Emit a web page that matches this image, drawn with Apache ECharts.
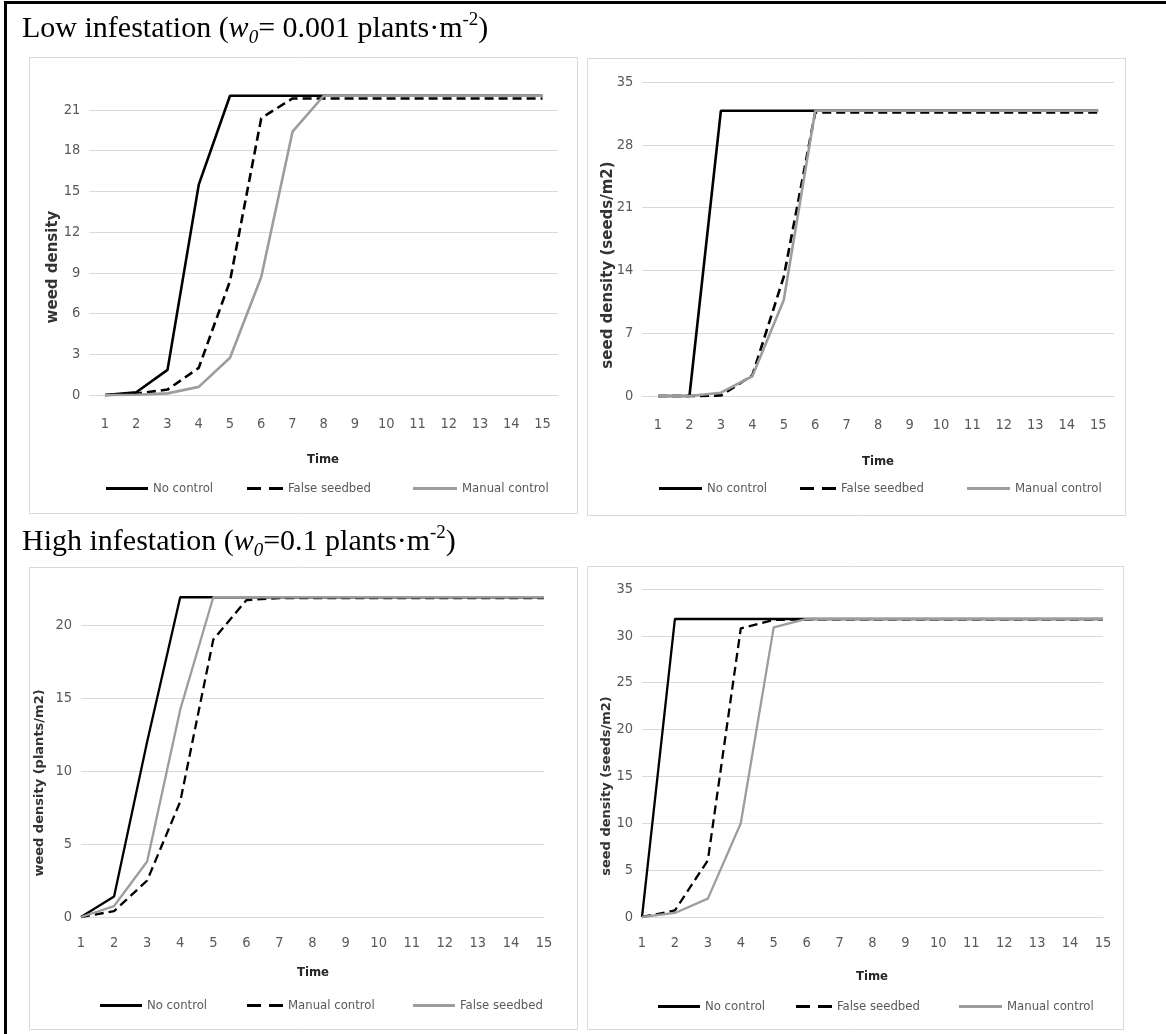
<!DOCTYPE html>
<html><head><meta charset="utf-8">
<script src="https://cdn.jsdelivr.net/npm/echarts@6/dist/echarts.min.js"></script>
<style>html,body{margin:0;padding:0;background:#fff}#c{width:1166px;height:1034px}</style>
</head><body><div id="c"></div>
<script>
// ---------- data ----------
const timeSteps = ['1','2','3','4','5','6','7','8','9','10','11','12','13','14','15'];

// Low infestation – weed density
const lowWeedNoControl    = [0, 0.2, 1.85, 15.5, 22.05, 22.05, 22.05, 22.05, 22.05, 22.05, 22.05, 22.05, 22.05, 22.05, 22.05];
const lowWeedFalseSeedbed = [0, 0.1, 0.4, 2.0, 8.4, 20.4, 21.85, 21.85, 21.85, 21.85, 21.85, 21.85, 21.85, 21.85, 21.85];
const lowWeedManual       = [0, 0.02, 0.12, 0.6, 2.75, 8.7, 19.4, 22.05, 22.05, 22.05, 22.05, 22.05, 22.05, 22.05, 22.05];
const lowWeedTicks = [0, 3, 6, 9, 12, 15, 18, 21];

// Low infestation – seed density
const lowSeedNoControl    = [0, 0, 31.8, 31.8, 31.8, 31.8, 31.8, 31.8, 31.8, 31.8, 31.8, 31.8, 31.8, 31.8, 31.8];
const lowSeedFalseSeedbed = [0, 0, 0.05, 2.3, 13.3, 31.6, 31.6, 31.6, 31.6, 31.6, 31.6, 31.6, 31.6, 31.6, 31.6];
const lowSeedManual       = [0, 0, 0.37, 2.2, 10.7, 31.8, 31.8, 31.8, 31.8, 31.8, 31.8, 31.8, 31.8, 31.8, 31.8];
const lowSeedTicks = [0, 7, 14, 21, 28, 35];

// High infestation – weed density
const highWeedNoControl    = [0, 1.4, 12.0, 21.9, 21.9, 21.9, 21.9, 21.9, 21.9, 21.9, 21.9, 21.9, 21.9, 21.9, 21.9];
const highWeedManual       = [0, 0.4, 2.5, 7.9, 19.0, 21.7, 21.85, 21.85, 21.85, 21.85, 21.85, 21.85, 21.85, 21.85, 21.85];
const highWeedFalseSeedbed = [0, 0.75, 3.8, 14.2, 21.9, 21.9, 21.9, 21.9, 21.9, 21.9, 21.9, 21.9, 21.9, 21.9, 21.9];
const highWeedTicks = [0, 5, 10, 15, 20];

// High infestation – seed density
const highSeedNoControl    = [0, 31.8, 31.8, 31.8, 31.8, 31.8, 31.8, 31.8, 31.8, 31.8, 31.8, 31.8, 31.8, 31.8, 31.8];
const highSeedFalseSeedbed = [0, 0.7, 6.05, 30.8, 31.7, 31.75, 31.75, 31.75, 31.75, 31.75, 31.75, 31.75, 31.75, 31.75, 31.75];
const highSeedManual       = [0, 0.43, 1.96, 10.0, 30.9, 31.8, 31.8, 31.8, 31.8, 31.8, 31.8, 31.8, 31.8, 31.8, 31.8];
const highSeedTicks = [0, 5, 10, 15, 20, 25, 30, 35];

// ---------- styles ----------
const NARROW = "'Liberation Sans Narrow','DejaVu Sans Condensed','Arial Narrow',sans-serif";
const SERIF = "'Liberation Serif','Times New Roman',serif";
const GRAY = '#9d9d9d';
const LABEL = '#595959';
const GRID = '#d9d9d9';

const solidS = w => ({color: '#000', width: w, type: 'solid'});
const dashS  = w => ({color: '#000', width: w, type: [9, 5]});
const grayS  = w => ({color: GRAY, width: w, type: 'solid'});

const grids = [
  {left: 89.4, top: 110, width: 468.7, height: 285},
  {left: 642.3, top: 82, width: 471.6, height: 314},
  {left: 81, top: 625, width: 463, height: 292},
  {left: 642, top: 589, width: 461, height: 328}
];
const boundary = [true, true, false, false];
const yTicks = [lowWeedTicks, lowSeedTicks, highWeedTicks, highSeedTicks];

const xAxes = grids.map((g, i) => ({
  type: 'category', gridIndex: i, data: timeSteps, boundaryGap: boundary[i],
  axisLine: {lineStyle: {color: GRID}}, axisTick: {show: false},
  axisLabel: {interval: 0, margin: i < 2 ? 22 : 19, fontFamily: NARROW, fontSize: 14.5, color: LABEL},
  splitLine: {show: false}
}));
const yAxes = grids.map((g, i) => ({
  type: 'value', gridIndex: i,
  min: yTicks[i][0], max: yTicks[i][yTicks[i].length - 1], interval: yTicks[i][1] - yTicks[i][0],
  axisLine: {show: false}, axisTick: {show: false},
  axisLabel: {margin: 9, fontFamily: NARROW, fontSize: 14.5, color: LABEL},
  splitLine: {lineStyle: {color: GRID, width: 1}}
}));

function ser(name, data, idx, ls) {
  return {type: 'line', name: name + '|' + idx, data: data, xAxisIndex: idx, yAxisIndex: idx,
    symbol: 'none', clip: false, lineStyle: ls, itemStyle: {color: ls.color}, z: 3};
}
const series = [
  ser('No control', lowWeedNoControl, 0, solidS(2.6)),
  ser('False seedbed', lowWeedFalseSeedbed, 0, dashS(2.6)),
  ser('Manual control', lowWeedManual, 0, grayS(2.6)),
  ser('No control', lowSeedNoControl, 1, solidS(2.6)),
  ser('False seedbed', lowSeedFalseSeedbed, 1, dashS(2.6)),
  ser('Manual control', lowSeedManual, 1, grayS(2.6)),
  ser('No control', highWeedNoControl, 2, solidS(2.3)),
  ser('Manual control', highWeedManual, 2, dashS(2.3)),
  ser('False seedbed', highWeedFalseSeedbed, 2, grayS(2.3)),
  ser('No control', highSeedNoControl, 3, solidS(2.3)),
  ser('False seedbed', highSeedFalseSeedbed, 3, dashS(2.3)),
  ser('Manual control', highSeedManual, 3, grayS(2.3))
];

const ICON_SOLID = 'rect';
const ICON_DASH = 'path://M0,0H14V3H0Z M22,0H36V3H22Z';
function leg(name, idx, left, cy, w, icon, color) {
  return {left: left, top: cy - 8, padding: 0, itemGap: 0, itemWidth: w, itemHeight: 3,
    selectedMode: false, formatter: n => n.split('|')[0],
    data: [{name: name + '|' + idx, icon: icon, itemStyle: {color: color, borderWidth: 0}}],
    textStyle: {fontFamily: NARROW, fontSize: 13, color: LABEL}};
}
const legends = [
  leg('No control', 0, 106, 490, 42, ICON_SOLID, '#000'),
  leg('False seedbed', 0, 247, 490, 36, ICON_DASH, '#000'),
  leg('Manual control', 0, 413, 490, 44, ICON_SOLID, GRAY),
  leg('No control', 1, 659, 490, 43, ICON_SOLID, '#000'),
  leg('False seedbed', 1, 800, 490, 36, ICON_DASH, '#000'),
  leg('Manual control', 1, 967, 490, 43, ICON_SOLID, GRAY),
  leg('No control', 2, 100, 1007, 42, ICON_SOLID, '#000'),
  leg('Manual control', 2, 247, 1007, 36, ICON_DASH, '#000'),
  leg('False seedbed', 2, 413, 1007, 42, ICON_SOLID, GRAY),
  leg('No control', 3, 658, 1008, 42, ICON_SOLID, '#000'),
  leg('False seedbed', 3, 796, 1008, 36, ICON_DASH, '#000'),
  leg('Manual control', 3, 959, 1008, 43, ICON_SOLID, GRAY)
];

function panel(x1, y1, x2, y2) {
  return {type: 'rect', shape: {x: x1 + 0.5, y: y1 + 0.5, width: x2 - x1, height: y2 - y1},
    style: {fill: 'none', stroke: GRID, lineWidth: 1}, z: 0, silent: true};
}
function ytitle(text, x, y, size) {
  return {type: 'text', x: x, y: y, rotation: Math.PI / 2,
    style: {text: text, align: 'center', verticalAlign: 'middle', fill: '#333',
      font: 'bold ' + size + "px 'DejaVu Sans', sans-serif"}, z: 5};
}
function xtitle(x, y) {
  return {type: 'text', x: x, y: y,
    style: {text: 'Time', align: 'center', verticalAlign: 'middle', fill: '#262626',
      font: 'bold 13px ' + NARROW}, z: 5};
}
const richT = {
  a: {fontFamily: SERIF, fontSize: 30, lineHeight: 36, fill: '#000'},
  i: {fontFamily: SERIF, fontSize: 30, fontStyle: 'italic', lineHeight: 36, fill: '#000'},
  s: {fontFamily: SERIF, fontSize: 19, fontStyle: 'italic', lineHeight: 20, verticalAlign: 'bottom', fill: '#000'},
  p: {fontFamily: SERIF, fontSize: 19, lineHeight: 20, verticalAlign: 'top', fill: '#000'}
};
function title(text, x, y) {
  return {type: 'text', x: x, y: y, style: {text: text, rich: richT, verticalAlign: 'top', align: 'left'}, z: 5};
}

const graphic = [
  {type: 'line', shape: {x1: 4, y1: 2.5, x2: 1166, y2: 2.5}, style: {stroke: '#000', lineWidth: 3}},
  {type: 'line', shape: {x1: 5.5, y1: 1, x2: 5.5, y2: 1034}, style: {stroke: '#000', lineWidth: 3}},
  panel(29, 57, 577, 513),
  panel(587, 58, 1125, 515),
  panel(29, 567, 577, 1029),
  panel(587, 566, 1123, 1029),
  title('{a|Low infestation (}{i|w}{s|0}{a|= 0.001 plants·m}{p|-2}{a|)}', 22, 11),
  title('{a|High infestation (}{i|w}{s|0}{a|=0.1 plants·m}{p|-2}{a|)}', 22, 524),
  ytitle('weed density', 53, 267, 15),
  ytitle('seed density (seeds/m2)', 608, 265, 15),
  ytitle('weed density (plants/m2)', 40, 783, 13),
  ytitle('seed density (seeds/m2)', 607, 786, 13),
  xtitle(323, 460), xtitle(878, 462), xtitle(313, 973), xtitle(872, 977)
];

const chart = echarts.init(document.getElementById('c'), null, {renderer: 'canvas'});
chart.setOption({
  animation: false,
  backgroundColor: '#fff',
  grid: grids,
  xAxis: xAxes,
  yAxis: yAxes,
  legend: legends,
  series: series,
  graphic: graphic
});
</script>
</body></html>
